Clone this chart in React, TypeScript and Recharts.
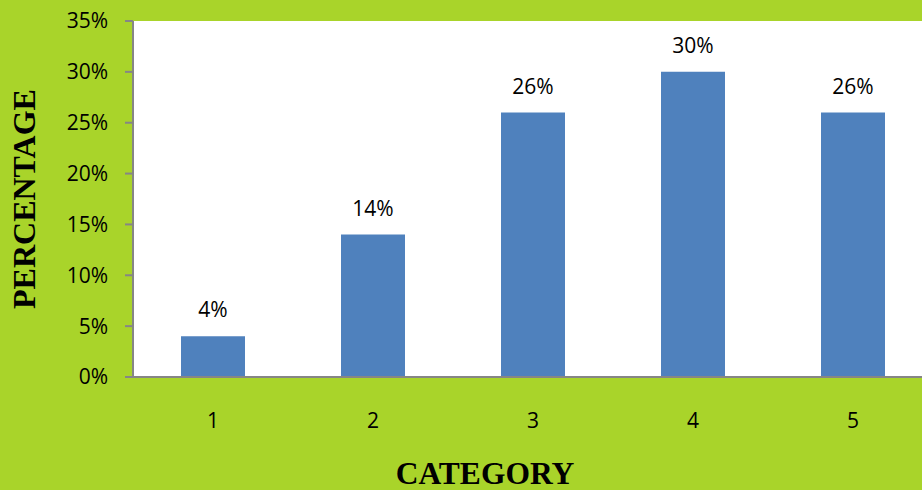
import React from 'react';
import { BarChart, Bar, XAxis, YAxis, CartesianGrid, LabelList, Label } from 'recharts';

const categories = ['1', '2', '3', '4', '5'];
const percentages = [4, 14, 26, 30, 26];
const yTicks = [0, 5, 10, 15, 20, 25, 30, 35];

const data = categories.map((c, i) => ({ category: c, value: percentages[i] }));

const GREEN = '#A9D42A';
const BLUE = '#4F81BD';
const AXIS = '#868686';
const TICK_FONT = '"Open Sans", sans-serif';
const TITLE_FONT = '"Liberation Serif", "Times New Roman", serif';

export default function App() {
  return (
    <div
      style={{
        position: 'absolute',
        left: 0,
        top: 0,
        width: 922,
        height: 490,
        overflow: 'hidden',
        background: GREEN,
      }}
    >
      <BarChart
        width={940}
        height={490}
        data={data}
        margin={{ top: 21, right: 7, bottom: 0, left: 0 }}
        barCategoryGap="30%"
      >
        <CartesianGrid fill="#FFFFFF" stroke="none" horizontal={false} vertical={false} />
        <XAxis
          dataKey="category"
          height={113}
          axisLine={{ stroke: AXIS, strokeWidth: 2 }}
          tickLine={false}
          tickSize={0}
          tickMargin={36}
          tick={{ fill: '#000', fontSize: 21, fontFamily: TICK_FONT }}
        >
          <Label
            content={() => (
              <text
                x={485}
                y={484}
                textAnchor="middle"
                fontFamily={TITLE_FONT}
                fontWeight="bold"
                fontSize={31.5}
                fill="#000"
              >
                CATEGORY
              </text>
            )}
          />
        </XAxis>
        <YAxis
          width={133}
          domain={[0, 35]}
          ticks={yTicks}
          interval={0}
          tickFormatter={(v: number) => `${v}%`}
          axisLine={{ stroke: AXIS, strokeWidth: 2 }}
          tickLine={{ stroke: AXIS, strokeWidth: 2 }}
          tickSize={8}
          tickMargin={17}
          tick={{ fill: '#000', fontSize: 21, fontFamily: TICK_FONT }}
        >
          <Label
            content={() => (
              <text
                x={35}
                y={199}
                transform="rotate(-90 35 199)"
                textAnchor="middle"
                fontFamily={TITLE_FONT}
                fontWeight="bold"
                fontSize={32}
                fill="#000"
              >
                PERCENTAGE
              </text>
            )}
          />
        </YAxis>
        <Bar dataKey="value" fill={BLUE} isAnimationActive={false}>
          <LabelList
            dataKey="value"
            position="top"
            offset={19}
            formatter={(v: number) => `${v}%`}
            style={{ fill: '#000', fontSize: 21, fontFamily: TICK_FONT }}
          />
        </Bar>
      </BarChart>
    </div>
  );
}
